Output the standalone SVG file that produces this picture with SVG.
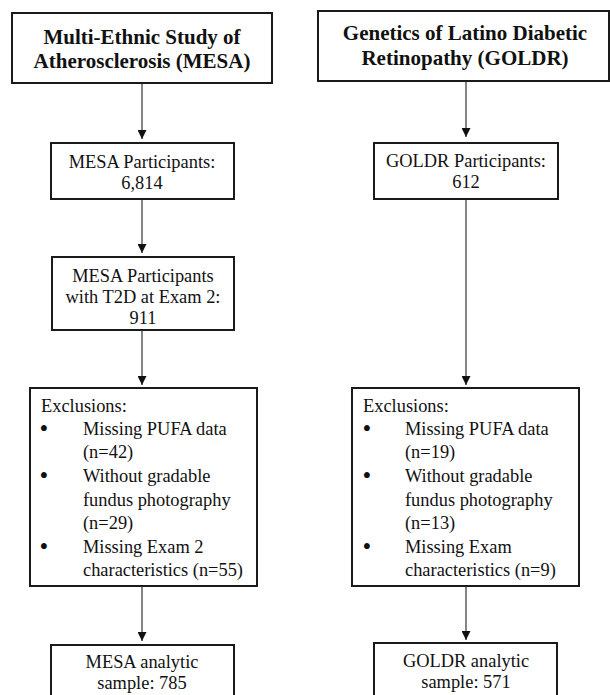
<svg xmlns="http://www.w3.org/2000/svg" width="610" height="695" viewBox="0 0 610 695">
  <style>
    .box { fill: #ffffff; stroke: #1a1a1a; stroke-width: 2; }
    .t { font-family: "Liberation Serif", "Times New Roman", serif; font-size: 18.4px; fill: #111111; }
    .c { text-anchor: middle; }
    .b { font-family: "Liberation Serif", "Times New Roman", serif; font-size: 25px; fill: #111111; text-anchor: middle; }
    .h { font-family: "Liberation Serif", "Times New Roman", serif; font-size: 21px; font-weight: bold; fill: #111111; text-anchor: middle; }
    .link { stroke: #333333; stroke-width: 1.2; fill: none; marker-end: url(#arrow); }
  </style>
  <defs>
    <marker id="arrow" markerUnits="userSpaceOnUse" markerWidth="9" markerHeight="9" refX="9" refY="4.5" orient="auto">
      <path d="M0,0 L9,4.5 L0,9 z" fill="#111111"/>
    </marker>
  </defs>
  <rect width="610" height="695" fill="#ffffff"/>

  <!-- connectors -->
  <g id="connectors">
    <line class="link" x1="142" y1="83" x2="142" y2="139"/>
    <line class="link" x1="142" y1="199" x2="142" y2="253"/>
    <line class="link" x1="142" y1="330" x2="142" y2="385"/>
    <line class="link" x1="142" y1="586" x2="142" y2="641"/>
    <line class="link" x1="466" y1="81" x2="466" y2="137"/>
    <line class="link" x1="466" y1="199" x2="466" y2="385"/>
    <line class="link" x1="466" y1="586" x2="466" y2="640"/>
  </g>

  <!-- MESA column -->
  <g id="mesa-study">
    <rect class="box" x="12" y="13" width="260" height="70"/>
    <text class="h" x="142" y="44">Multi-Ethnic Study of</text>
    <text class="h" x="142" y="68">Atherosclerosis (MESA)</text>
  </g>
  <g id="mesa-participants">
    <rect class="box" x="51" y="143" width="183" height="56"/>
    <text class="t c" x="142" y="168">MESA Participants:</text>
    <text class="t c" x="142" y="189">6,814</text>
  </g>
  <g id="mesa-t2d">
    <rect class="box" x="52" y="257" width="182" height="73"/>
    <text class="t c" x="143" y="282">MESA Participants</text>
    <text class="t c" x="143" y="303">with T2D at Exam 2:</text>
    <text class="t c" x="143" y="324">911</text>
  </g>
  <g id="mesa-exclusions">
    <rect class="box" x="30" y="388" width="227" height="198"/>
    <text class="t" x="41" y="412">Exclusions:</text>
    <text class="b" x="44" y="437">•</text>
    <text class="t" x="83" y="435">Missing PUFA data</text>
    <text class="t" x="83" y="458">(n=42)</text>
    <text class="b" x="44" y="484">•</text>
    <text class="t" x="83" y="482">Without gradable</text>
    <text class="t" x="83" y="506">fundus photography</text>
    <text class="t" x="83" y="529">(n=29)</text>
    <text class="b" x="44" y="555">•</text>
    <text class="t" x="83" y="553">Missing Exam 2</text>
    <text class="t" x="83" y="576">characteristics (n=55)</text>
  </g>
  <g id="mesa-analytic">
    <rect class="box" x="51" y="645" width="183" height="70"/>
    <text class="t c" x="142" y="668">MESA analytic</text>
    <text class="t c" x="142" y="689">sample: 785</text>
  </g>

  <!-- GOLDR column -->
  <g id="goldr-study">
    <rect class="box" x="318" y="11" width="291" height="70"/>
    <text class="h" x="465" y="40">Genetics of Latino Diabetic</text>
    <text class="h" x="465" y="65">Retinopathy (GOLDR)</text>
  </g>
  <g id="goldr-participants">
    <rect class="box" x="374" y="143" width="184" height="56"/>
    <text class="t c" x="466" y="167">GOLDR Participants:</text>
    <text class="t c" x="466" y="188">612</text>
  </g>
  <g id="goldr-exclusions">
    <rect class="box" x="352" y="388" width="227" height="198"/>
    <text class="t" x="363" y="412">Exclusions:</text>
    <text class="b" x="367" y="437">•</text>
    <text class="t" x="405" y="435">Missing PUFA data</text>
    <text class="t" x="405" y="458">(n=19)</text>
    <text class="b" x="367" y="484">•</text>
    <text class="t" x="405" y="482">Without gradable</text>
    <text class="t" x="405" y="506">fundus photography</text>
    <text class="t" x="405" y="529">(n=13)</text>
    <text class="b" x="367" y="555">•</text>
    <text class="t" x="405" y="553">Missing Exam</text>
    <text class="t" x="405" y="576">characteristics (n=9)</text>
  </g>
  <g id="goldr-analytic">
    <rect class="box" x="374" y="643" width="183" height="70"/>
    <text class="t c" x="466" y="667">GOLDR analytic</text>
    <text class="t c" x="466" y="688">sample: 571</text>
  </g>
</svg>
